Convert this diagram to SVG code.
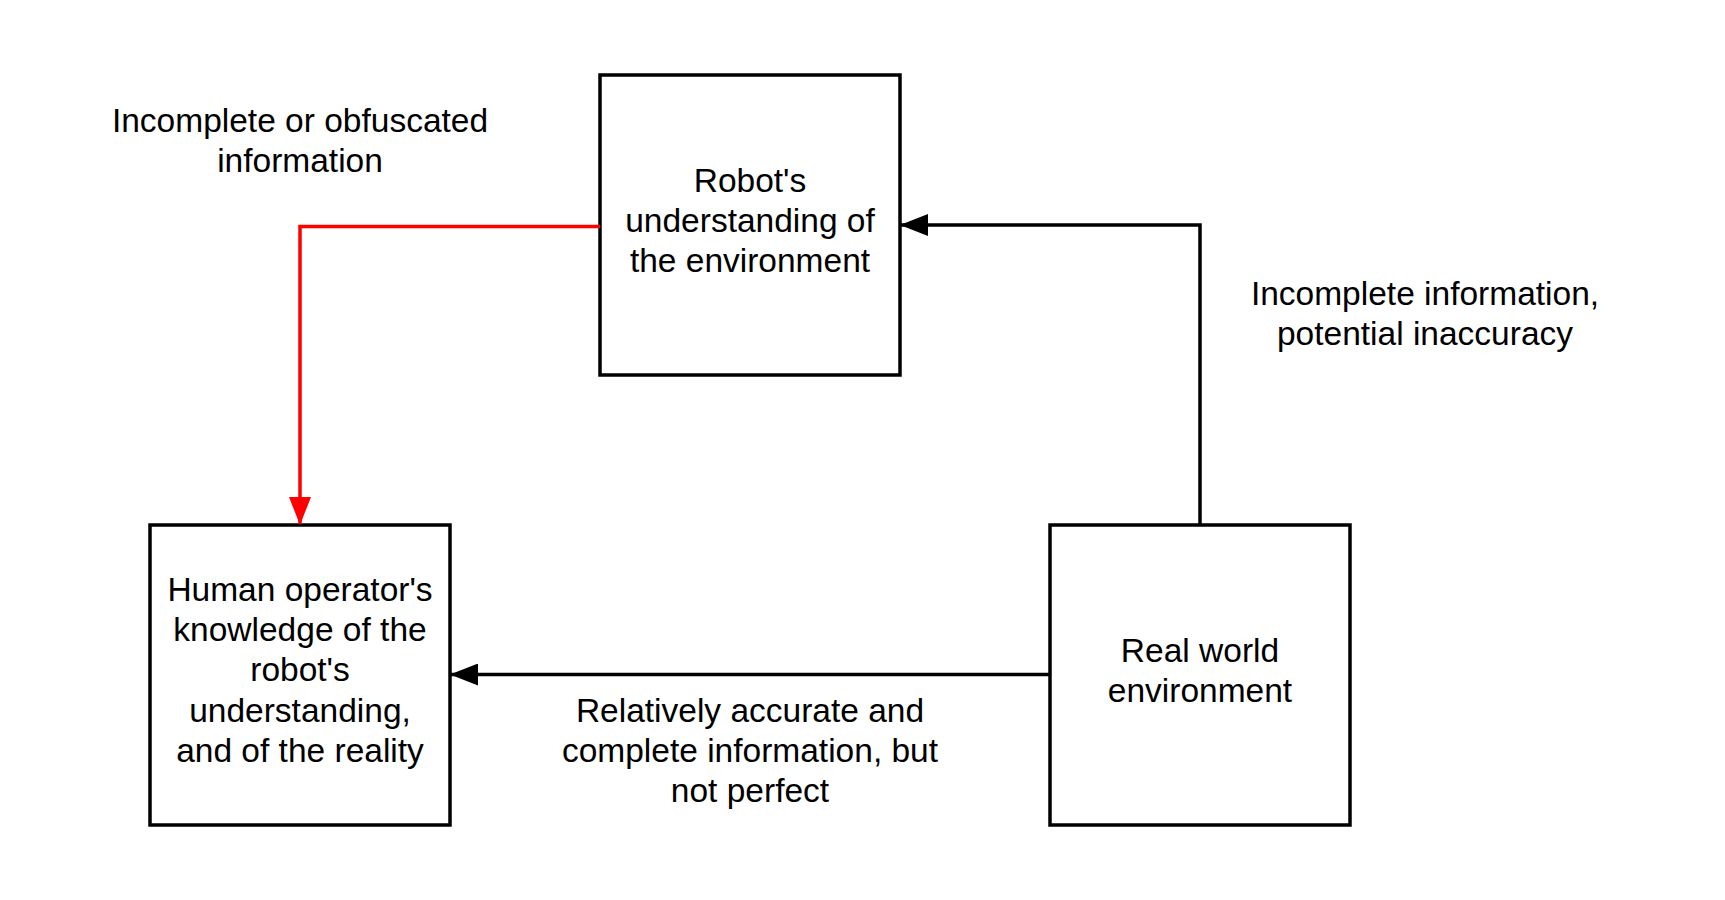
<svg xmlns="http://www.w3.org/2000/svg" width="1725" height="900" viewBox="0 0 1725 900">
<style>
.box{fill:#fff;stroke:#000;stroke-width:3.5}
.t{font-family:"Liberation Sans",Arial,sans-serif;font-size:33.5px;fill:#000;text-anchor:middle}
.c{fill:none;stroke-width:3.5}
</style>
<defs>
<marker id="ab" markerUnits="userSpaceOnUse" viewBox="0 0 28 22" markerWidth="28" markerHeight="22" refX="27" refY="11" orient="auto">
<path d="M0,0 L28,11 L0,22 Z" fill="#000"/>
</marker>
<marker id="ar" markerUnits="userSpaceOnUse" viewBox="0 0 28 22" markerWidth="28" markerHeight="22" refX="27" refY="11" orient="auto">
<path d="M0,0 L28,11 L0,22 Z" fill="#f00"/>
</marker>
</defs>
<rect width="1725" height="900" fill="#fff"/>
<g id="robot">
<rect class="box" x="600" y="75" width="300" height="300"/>
<text class="t" x="750" y="191.5">Robot's</text>
<text class="t" x="750" y="231.8">understanding of</text>
<text class="t" x="750" y="272">the environment</text>
</g>
<g id="human">
<rect class="box" x="150" y="525" width="300" height="300"/>
<text class="t" x="300" y="600.8">Human operator's</text>
<text class="t" x="300" y="641">knowledge of the</text>
<text class="t" x="300" y="681.4">robot's</text>
<text class="t" x="300" y="721.7">understanding,</text>
<text class="t" x="300" y="762">and of the reality</text>
</g>
<g id="real">
<rect class="box" x="1050" y="525" width="300" height="300"/>
<text class="t" x="1200" y="661.5">Real world</text>
<text class="t" x="1200" y="701.8">environment</text>
</g>
<g id="connectors">
<path class="c" stroke="#f00" d="M600,226.5 H300 V524" marker-end="url(#ar)"/>
<path class="c" stroke="#000" d="M1200,525 V225 H901" marker-end="url(#ab)"/>
<path class="c" stroke="#000" d="M1050,674.5 H451" marker-end="url(#ab)"/>
</g>
<g id="labels">
<text class="t" x="300" y="131.7">Incomplete or obfuscated</text>
<text class="t" x="300" y="172">information</text>
<text class="t" x="1425" y="304.5">Incomplete information,</text>
<text class="t" x="1425" y="344.8">potential inaccuracy</text>
<text class="t" x="750" y="721.7">Relatively accurate and</text>
<text class="t" x="750" y="762">complete information, but</text>
<text class="t" x="750" y="802.3">not perfect</text>
</g>
</svg>
